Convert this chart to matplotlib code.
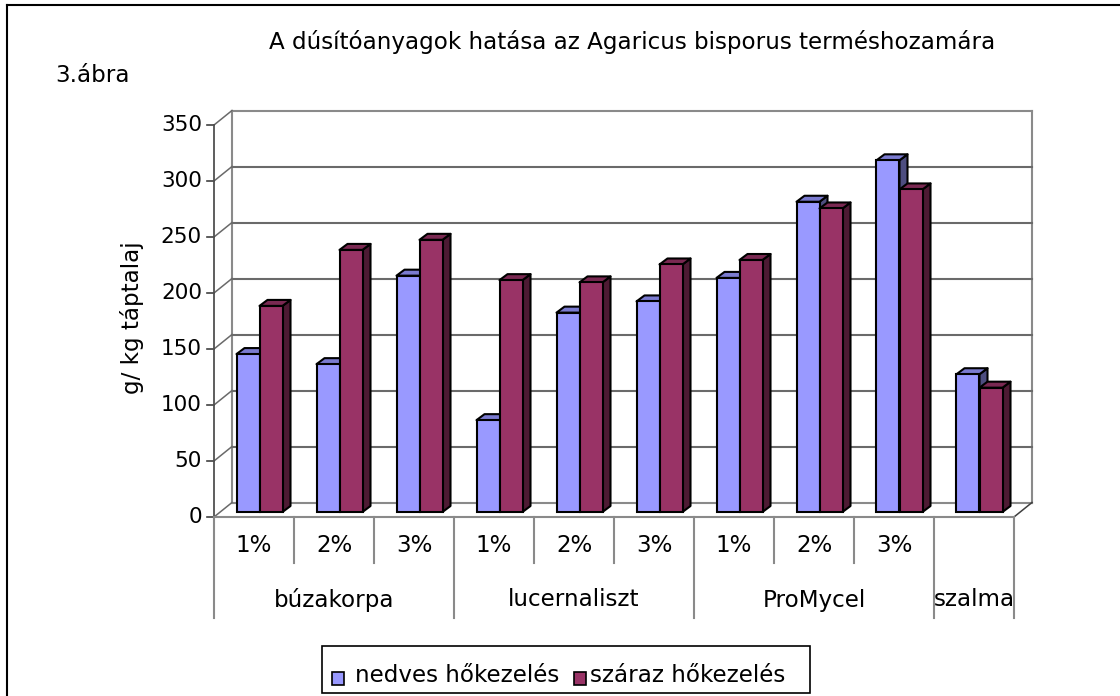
import matplotlib
matplotlib.use('Agg')
import matplotlib.pyplot as plt
from matplotlib.patches import Polygon, Rectangle

plt.rcParams['font.family'] = ['DejaVu Sans']

# ---------------- data ----------------
title = "A dúsítóanyagok hatása az Agaricus bisporus terméshozamára"
fig_label = "3.ábra"
y_label = "g/ kg táptalaj"
levels = ["1%", "2%", "3%", "1%", "2%", "3%", "1%", "2%", "3%", ""]
groups = ["búzakorpa", "lucernaliszt", "ProMycel", "szalma"]
group_sizes = [3, 3, 3, 1]
series_names = ["nedves hőkezelés", "száraz hőkezelés"]
nedves = [141, 132, 211, 82, 178, 188, 209, 277, 314, 123]
szaraz = [184, 234, 243, 207, 205, 221, 225, 271, 288, 111]
yticks = [0, 50, 100, 150, 200, 250, 300, 350]

# ---------------- style ----------------
FS = 16.6
FS_TICK = 15.5
front_cols = ["#9999FF", "#993366"]
top_cols = ["#7B7BD0", "#7A2952"]
side_cols = ["#4D4D80", "#4D1A33"]
grid_col = "#6A6A6A"
wall_col = "#8A8A8A"

W, H = 1120, 696
fig = plt.figure(figsize=(W / 100, H / 100), dpi=100)

PX0, PXW, PY0, PYS = 219.5, 80.0, 512.0, 1.12


def fx(px):
    return px / W


def fy(py):
    return 1 - py / H


def pv(py):
    return (PY0 - py) / PYS


ax = fig.add_axes([fx(200), fy(530), 850 / W, 430 / H])
ax.set_xlim((200 - PX0) / PXW, (1050 - PX0) / PXW)
ax.set_ylim(pv(530), pv(100))
ax.axis('off')

n = len(nedves)
ymax = yticks[-1]
FDX, FDV = -5.5 / PXW, -5 / PYS      # front plane offset
BDX, BDV = 12.5 / PXW, 9.5 / PYS     # back wall offset
DDX, DDV = 8 / PXW, 6 / PYS          # bar depth
BW = 23 / PXW

kw = dict(clip_on=False)
# back wall
ax.plot([BDX, BDX], [BDV, ymax + BDV], color=wall_col, lw=1.5, zorder=1, **kw)
ax.plot([n + BDX, n + BDX], [BDV, ymax + BDV], color=wall_col, lw=1.5, zorder=1, **kw)
for t in yticks:
    c = wall_col if t in (0, ymax) else grid_col
    ax.plot([BDX, n + BDX], [t + BDV, t + BDV], color=c, lw=1.5, zorder=1, **kw)
    # oblique from front axis to wall
    ax.plot([FDX, BDX], [t + FDV, t + BDV], color=grid_col, lw=1.1, zorder=1, **kw)
    # tick
    ax.plot([FDX - 7 / PXW, FDX], [t + FDV, t + FDV], color="#404040", lw=1.2, zorder=1, **kw)
    ax.text(FDX - 12 / PXW, t + FDV, str(t), ha='right', va='center', fontsize=FS_TICK, **kw)
# floor
ax.plot([FDX, n + FDX], [FDV, FDV], color=wall_col, lw=1.5, zorder=1, **kw)
ax.plot([n + FDX, n + BDX], [FDV, BDV], color="#404040", lw=1.1, zorder=1, **kw)
# front value axis
ax.plot([FDX, FDX], [FDV, ymax + FDV], color="#505050", lw=1.3, zorder=1, **kw)

# bars
for s, vals in enumerate([nedves, szaraz]):
    xs = [i + 0.5 + (s - 0.5) * BW for i in range(n)]
    z = 3 + 2 * s
    ax.bar(xs, vals, width=BW, bottom=0, color=front_cols[s], edgecolor='black',
           linewidth=1.5, zorder=z + 0.5, label=series_names[s])
    for x, v in zip(xs, vals):
        xl, xr = x - BW / 2, x + BW / 2
        top = Polygon([(xl, v), (xr, v), (xr + DDX, v + DDV), (xl + DDX, v + DDV)],
                      closed=True, facecolor=top_cols[s], edgecolor='black',
                      linewidth=1.5, zorder=z, joinstyle='round', **kw)
        side = Polygon([(xr, 0), (xr, v), (xr + DDX, v + DDV), (xr + DDX, DDV)],
                       closed=True, facecolor=side_cols[s], edgecolor='black',
                       linewidth=1.5, zorder=z, joinstyle='round', **kw)
        ax.add_patch(side)
        ax.add_patch(top)

# category axis (multi-level)
starts = []
k = 0
for g in group_sizes:
    starts.append(k)
    k += g
full = set(starts + [n])
for k in range(n + 1):
    bottom = pv(618) if k in full else pv(563)
    ax.plot([k + FDX, k + FDX], [FDV, bottom], color=wall_col, lw=1.5, zorder=1, **kw)
for i, lab in enumerate(levels):
    if lab:
        ax.text(i + 0.5 + FDX, pv(546), lab, ha='center', va='center', fontsize=FS, **kw)
for st, g, name in zip(starts, group_sizes, groups):
    ax.text(st + g / 2 + FDX, pv(600), name, ha='center', va='center', fontsize=FS, **kw)

# texts
fig.text(fx(632), fy(42), title, ha='center', va='center', fontsize=FS)
fig.text(fx(55), fy(75), fig_label, ha='left', va='center', fontsize=FS)
fig.text(fx(132), fy(318), y_label, ha='center', va='center', rotation=90, fontsize=FS)

# outer border
fig.add_artist(plt.Line2D([fx(7), fx(7)], [fy(5), 0], color='black', lw=1.5))
fig.add_artist(plt.Line2D([fx(7), 1], [fy(5), fy(5)], color='black', lw=1.5))

# legend
fig.add_artist(Rectangle((fx(322), fy(693)), (810 - 322) / W, (693 - 646) / H,
                         facecolor='white', edgecolor='black', lw=1.2,
                         transform=fig.transFigure))
for s, (mx, tx) in enumerate([(332, 355), (574, 590)]):
    fig.add_artist(Rectangle((fx(mx), fy(685)), 12 / W, 13 / H,
                             facecolor=front_cols[s], edgecolor='black', lw=1.2,
                             transform=fig.transFigure))
    fig.text(fx(tx), fy(676), series_names[s], ha='left', va='center', fontsize=FS)

fig.savefig('out.png', dpi=100)
